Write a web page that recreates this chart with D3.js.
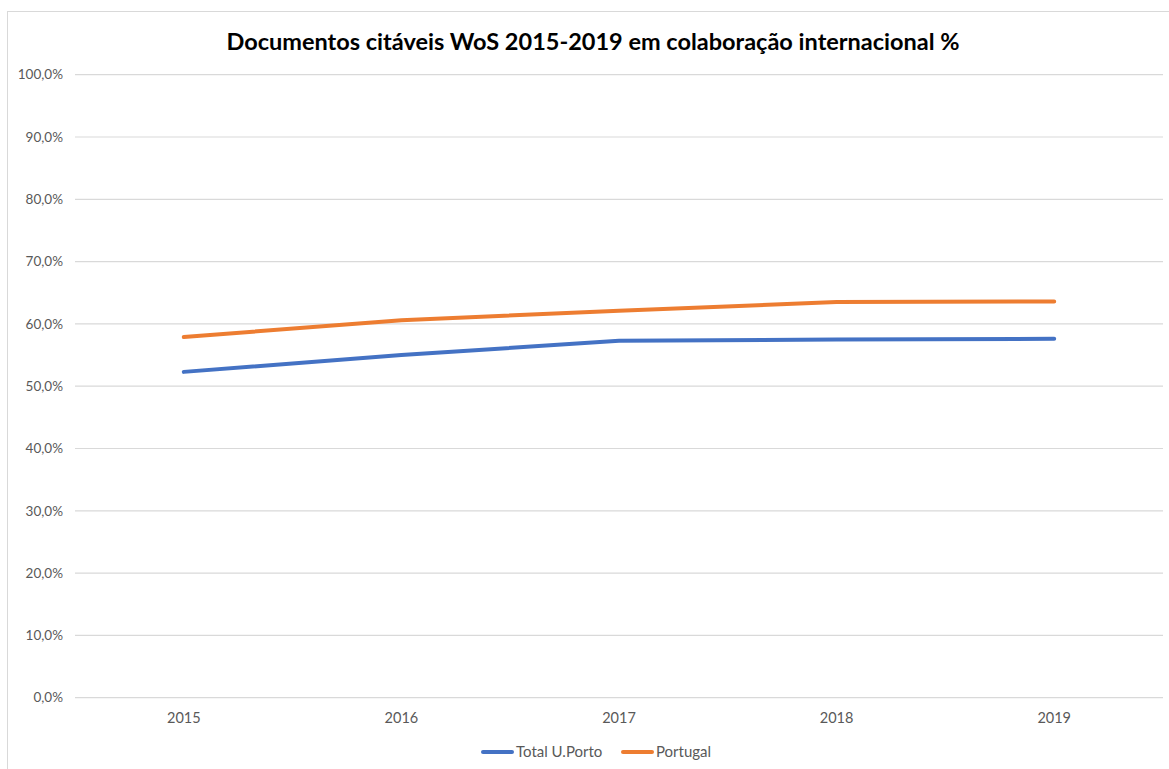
<!DOCTYPE html>
<html>
<head>
<meta charset="utf-8">
<script src="https://cdn.jsdelivr.net/npm/d3@7"></script>
<style>
  html, body { margin: 0; padding: 0; background: #fff; }
  #chart { width: 1169px; height: 769px; }
  text { font-family: Lato, "Open Sans", sans-serif; }
</style>
</head>
<body>
<div id="chart"></div>
<script>
const years = ['2015', '2016', '2017', '2018', '2019'];
const porto = [52.3, 55.0, 57.3, 57.5, 57.6];
const portugal = [57.9, 60.6, 62.1, 63.5, 63.6];
const yTicks = [0, 10, 20, 30, 40, 50, 60, 70, 80, 90, 100];

const width = 1169, height = 769;
const margin = { top: 74.7, right: 6, bottom: 71.3, left: 75 };

const svg = d3.select('#chart')
  .append('svg')
  .attr('width', width)
  .attr('height', height);

svg.append('rect')
  .attr('x', 7.5).attr('y', 11.5)
  .attr('width', width).attr('height', height)
  .attr('fill', '#fff')
  .attr('stroke', '#d9d9d9');

const x = d3.scaleBand()
  .domain(years)
  .range([margin.left, width - margin.right]);

const y = d3.scaleLinear()
  .domain([0, 100])
  .range([height - margin.bottom, margin.top]);

// gridlines
svg.append('g')
  .selectAll('line')
  .data(yTicks)
  .enter()
  .append('line')
  .attr('x1', margin.left)
  .attr('x2', width - margin.right)
  .attr('y1', d => y(d))
  .attr('y2', d => y(d))
  .attr('stroke', '#d9d9d9')
  .attr('stroke-width', 1.2);

// y labels
svg.append('g')
  .selectAll('text')
  .data(yTicks)
  .enter()
  .append('text')
  .attr('x', margin.left - 12)
  .attr('y', d => y(d))
  .attr('dy', '0.35em')
  .attr('text-anchor', 'end')
  .attr('fill', '#595959')
  .style('font-size', '13.5px')
  .text(d => d.toFixed(1).replace('.', ',') + '%');

// x labels
svg.append('g')
  .selectAll('text')
  .data(years)
  .enter()
  .append('text')
  .attr('x', d => x(d) + x.bandwidth() / 2)
  .attr('y', y(0) + 25)
  .attr('text-anchor', 'middle')
  .attr('fill', '#595959')
  .style('font-size', '14.5px')
  .text(d => d);

const series = [
  { name: 'Total U.Porto', values: porto, color: '#4472C4' },
  { name: 'Portugal', values: portugal, color: '#ED7D31' }
];

const line = d3.line()
  .x((d, i) => x(years[i]) + x.bandwidth() / 2)
  .y(d => y(d));

svg.append('g')
  .selectAll('path')
  .data(series)
  .enter()
  .append('path')
  .attr('d', d => line(d.values))
  .attr('fill', 'none')
  .attr('stroke', d => d.color)
  .attr('stroke-width', 4)
  .attr('stroke-linecap', 'round')
  .attr('stroke-linejoin', 'round');

// title
svg.append('text')
  .attr('x', 593)
  .attr('y', 50)
  .attr('text-anchor', 'middle')
  .attr('fill', '#000')
  .style('font-size', '23.5px')
  .style('font-weight', 'bold')
  .text('Documentos citáveis WoS 2015-2019 em colaboração internacional %');

// legend
const legendX = [483, 623];
const lg = svg.append('g')
  .selectAll('g')
  .data(series)
  .enter()
  .append('g')
  .attr('transform', (d, i) => `translate(${legendX[i]},752)`);

lg.append('line')
  .attr('x1', 0).attr('x2', 29)
  .attr('stroke', d => d.color)
  .attr('stroke-width', 4)
  .attr('stroke-linecap', 'round');

lg.append('text')
  .attr('x', 33)
  .attr('dy', '0.35em')
  .attr('fill', '#595959')
  .style('font-size', '15px')
  .text(d => d.name);
</script>
</body>
</html>
